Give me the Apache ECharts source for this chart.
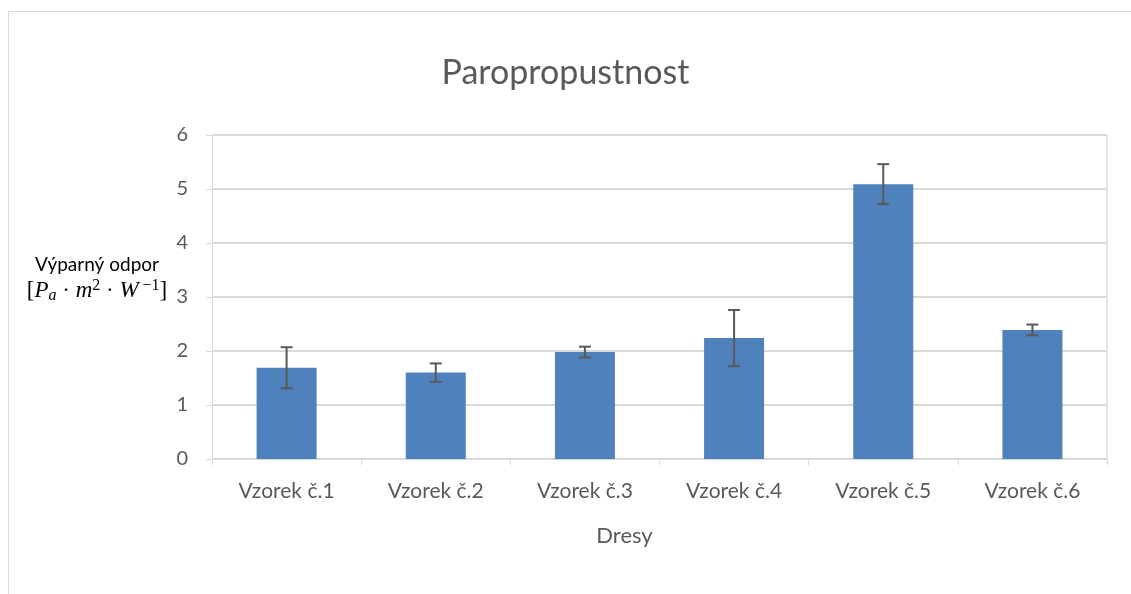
<!DOCTYPE html>
<html>
<head>
<meta charset="utf-8">
<script src="https://cdn.jsdelivr.net/npm/echarts@6/dist/echarts.min.js"></script>
<style>
  html, body { margin: 0; padding: 0; background: #fff; }
  #chart { width: 1131px; height: 594px; }
</style>
</head>
<body>
<div id="chart"></div>
<script>
const categories = ['Vzorek č.1', 'Vzorek č.2', 'Vzorek č.3', 'Vzorek č.4', 'Vzorek č.5', 'Vzorek č.6']
const values = [1.69, 1.6, 1.98, 2.24, 5.09, 2.39]
const errors = [0.38, 0.17, 0.1, 0.52, 0.37, 0.1]
const yTicks = [0, 1, 2, 3, 4, 5, 6]

const textColor = '#595959'
const lineColor = '#d9d9d9'
const font = 'Lato'

const chart = echarts.init(document.getElementById('chart'))

chart.setOption({
  animation: false,
  title: {
    text: 'Paropropustnost',
    left: 'center',
    top: 51,
    textStyle: { fontFamily: font, fontSize: 34, fontWeight: 'normal', color: textColor }
  },
  graphic: [{
    type: 'rect',
    silent: true,
    shape: { x: 8.5, y: 11.5, width: 1200, height: 700 },
    style: { fill: 'none', stroke: lineColor, lineWidth: 1 }
  }],
  grid: { left: 212, right: 24, top: 135, bottom: 135 },
  xAxis: {
    type: 'category',
    data: categories,
    name: 'Dresy',
    nameLocation: 'middle',
    nameGap: 66,
    nameTextStyle: { fontFamily: font, fontSize: 22, color: textColor, padding: [0, 70, 0, 0] },
    axisLine: { lineStyle: { color: lineColor, width: 1 } },
    axisTick: { show: true, length: 6, lineStyle: { color: lineColor } },
    axisLabel: { margin: 22, fontFamily: font, fontSize: 21, color: textColor }
  },
  yAxis: [{
    type: 'value',
    min: yTicks[0],
    max: yTicks[yTicks.length - 1],
    interval: 1,
    name: '{a|Výparný odpor}\n{m|[}{i|P}{sub|a}{m| · }{i|m}{sup|2}{m| · }{i|W}{sup| −1}{m|]}',
    nameLocation: 'middle',
    nameRotate: 0,
    nameGap: 115,
    nameTextStyle: {
      align: 'center',
      padding: [0, 0, 38, 0],
      rich: {
        a: { fontFamily: font, fontSize: 19, color: '#000', lineHeight: 26, align: 'center' },
        m: { fontFamily: 'Liberation Serif', fontSize: 23, color: '#000', lineHeight: 26 },
        i: { fontFamily: 'Liberation Serif', fontStyle: 'italic', fontSize: 23, color: '#000', lineHeight: 26 },
        sub: { fontFamily: 'Liberation Serif', fontStyle: 'italic', fontSize: 16, color: '#000', padding: [10, 0, 0, 0], lineHeight: 26 },
        sup: { fontFamily: 'Liberation Serif', fontSize: 16, color: '#000', padding: [0, 0, 10, 0], lineHeight: 26 }
      }
    },
    axisLine: { show: true, lineStyle: { color: lineColor, width: 1 } },
    axisTick: { show: true, length: 6, lineStyle: { color: lineColor } },
    axisLabel: { margin: 24, fontFamily: font, fontSize: 20, color: textColor },
    splitLine: { lineStyle: { color: lineColor, width: 2 } }
  }, {
    type: 'value',
    position: 'right',
    min: yTicks[0],
    max: yTicks[yTicks.length - 1],
    interval: 1,
    axisLine: { show: true, lineStyle: { color: '#dce6f2', width: 2 } },
    axisTick: { show: false },
    axisLabel: { show: false },
    splitLine: { show: false }
  }],
  series: [{
    type: 'bar',
    data: values,
    barWidth: 60,
    itemStyle: { color: '#4f81bd' }
  }, {
    type: 'custom',
    data: values.map((v, i) => [i, v - errors[i], v + errors[i]]),
    z: 10,
    renderItem(params, api) {
      const low = api.coord([api.value(0), api.value(1)])
      const high = api.coord([api.value(0), api.value(2)])
      const half = 6
      const style = { stroke: textColor, lineWidth: 2 }
      return {
        type: 'group',
        children: [
          { type: 'line', shape: { x1: high[0], y1: high[1], x2: low[0], y2: low[1] }, style },
          { type: 'line', shape: { x1: high[0] - half, y1: high[1], x2: high[0] + half, y2: high[1] }, style },
          { type: 'line', shape: { x1: low[0] - half, y1: low[1], x2: low[0] + half, y2: low[1] }, style }
        ]
      }
    }
  }]
})
</script>
</body>
</html>
